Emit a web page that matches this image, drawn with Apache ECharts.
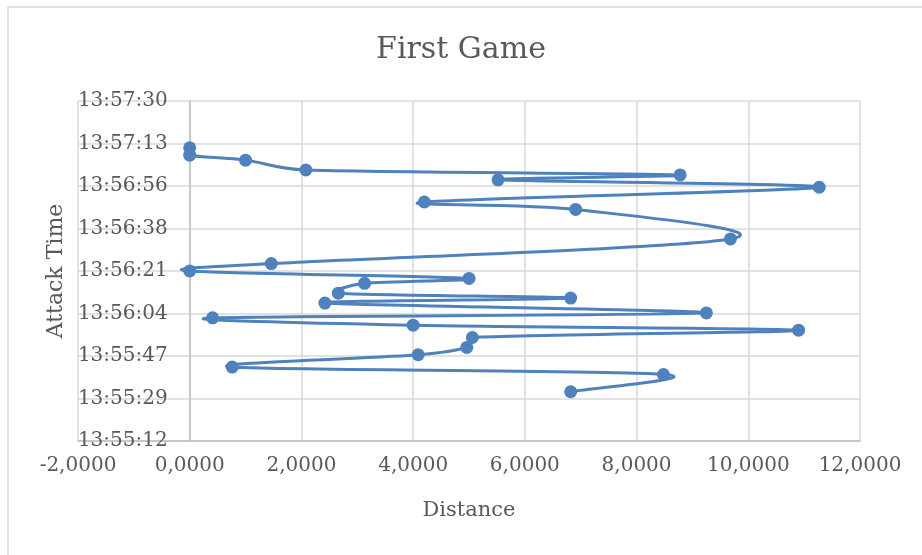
<!DOCTYPE html>
<html>
<head>
<meta charset="utf-8">
<script src="https://cdn.jsdelivr.net/npm/echarts@6/dist/echarts.min.js"></script>
<style>
html,body{margin:0;padding:0;background:#fff;}
#c{width:922px;height:555px;}
</style>
</head>
<body>
<div id="c"></div>
<script>
// Attack times (chronological) and distances
const attackTimes = ["13:55:32","13:55:39","13:55:42","13:55:47","13:55:50","13:55:54","13:55:57","13:55:59","13:56:02","13:56:04","13:56:08","13:56:10","13:56:12","13:56:16","13:56:18","13:56:21","13:56:24","13:56:34","13:56:46","13:56:49","13:56:55","13:56:58","13:57:00","13:57:02","13:57:06","13:57:08","13:57:11"];
const distances = [6.82,8.48,0.76,4.09,4.96,5.06,10.9,4.0,0.41,9.25,2.42,6.82,2.66,3.13,5.0,0.0,1.46,9.68,6.91,4.2,11.27,5.52,8.78,2.08,1.0,0.0,0.0];
const yStartTime = "13:55:12";
const yEndTime = "13:57:30";
const yStepSeconds = 17.25;
const xMin = -2, xMax = 12, xStep = 2;

function toSec(s){const p=s.split(':').map(Number);return p[0]*3600+p[1]*60+p[2];}
function fmtTime(sec){
  sec=Math.round(sec);
  const h=Math.floor(sec/3600), m=Math.floor((sec%3600)/60), s=sec%60;
  const pad=v=>String(v).padStart(2,'0');
  return h+':'+pad(m)+':'+pad(s);
}
const base = toSec(yStartTime);
const span = toSec(yEndTime)-base;
const seriesData = attackTimes.map((t,i)=>[distances[i], toSec(t)-base]);

const W=922, H=555;
const gridLeft=78, gridRight=62, gridTop=101, gridBottom=114;
const plotW = W-gridLeft-gridRight;
const yAxisOffset = -plotW*(0-xMin)/(xMax-xMin); // y axis crosses at distance 0

const font = 'DejaVu Serif';
const txt = '#595959';
const blue = '#4f81bd';

// Excel-like smoothed line (Bezier, tangent (p2-p0)/6 capped at half the segment), positioned by the chart's axes
function renderSmooth(params, api){
  if (params.dataIndex !== 0) return null;
  const pts = seriesData.map(d=>api.coord(d));
  const n = pts.length;
  const cap = (vx,vy,maxLen)=>{const l=Math.hypot(vx,vy); if(l>maxLen&&l>0){const k=maxLen/l; return [vx*k,vy*k];} return [vx,vy];};
  let d = 'M'+pts[0][0]+' '+pts[0][1];
  for (let i=0;i<n-1;i++){
    const p0 = pts[Math.max(i-1,0)], p1 = pts[i], p2 = pts[i+1], p3 = pts[Math.min(i+2,n-1)];
    const seg = Math.hypot(p2[0]-p1[0], p2[1]-p1[1]);
    const t1 = cap((p2[0]-p0[0])/6,(p2[1]-p0[1])/6,seg/2);
    const t2 = cap((p3[0]-p1[0])/6,(p3[1]-p1[1])/6,seg/2);
    d += ' C'+(p1[0]+t1[0])+' '+(p1[1]+t1[1])+' '+(p2[0]-t2[0])+' '+(p2[1]-t2[1])+' '+p2[0]+' '+p2[1];
  }
  return {type:'path', shape:{pathData:d}, style:{fill:null, stroke:blue, lineWidth:3, lineJoin:'round', lineCap:'round'}};
}

const chart = echarts.init(document.getElementById('c'));
chart.setOption({
  animation:false,
  backgroundColor:'#fff',
  title:{text:'First Game',left:'center',top:30,textStyle:{fontFamily:font,fontSize:30,fontWeight:'normal',color:txt}},
  grid:{left:gridLeft,right:gridRight,top:gridTop,bottom:gridBottom,containLabel:false,outerBoundsMode:'none'},
  xAxis:{
    type:'value',min:xMin,max:xMax,interval:xStep,
    name:'Distance',nameLocation:'middle',nameGap:59,
    nameTextStyle:{fontFamily:font,fontSize:21,color:txt},
    axisLine:{show:true,onZero:false,lineStyle:{color:'#bfbfbf',width:1.5}},
    axisTick:{show:false},
    axisLabel:{fontFamily:font,fontSize:20,color:txt,margin:15,formatter:v=>v.toFixed(4).replace('.',',')},
    splitLine:{show:true,lineStyle:{color:'#d9d9d9',width:1.5}}
  },
  yAxis:{
    type:'value',min:0,max:span,interval:yStepSeconds,offset:yAxisOffset,
    name:'Attack Time',nameLocation:'middle',nameGap:117,nameRotate:90,
    nameTextStyle:{fontFamily:font,fontSize:22,color:txt},
    axisLine:{show:true,onZero:false,lineStyle:{color:'#bfbfbf',width:1.5}},
    axisTick:{show:false},
    axisLabel:{fontFamily:font,fontSize:20,color:txt,margin:22,formatter:v=>fmtTime(base+v)},
    splitLine:{show:true,lineStyle:{color:'#d9d9d9',width:1.5}}
  },
  graphic:[{type:'rect',shape:{x:8,y:7,width:940,height:560},style:{fill:null,stroke:'#d9d9d9',lineWidth:1.5},silent:true,z:-1}],
  series:[
    {type:'custom',data:seriesData,renderItem:renderSmooth,clip:false,z:2,encode:{x:0,y:1}},
    {type:'scatter',data:seriesData,symbol:'circle',symbolSize:13,itemStyle:{color:blue,opacity:1},z:3}
  ]
});
</script>
</body>
</html>
